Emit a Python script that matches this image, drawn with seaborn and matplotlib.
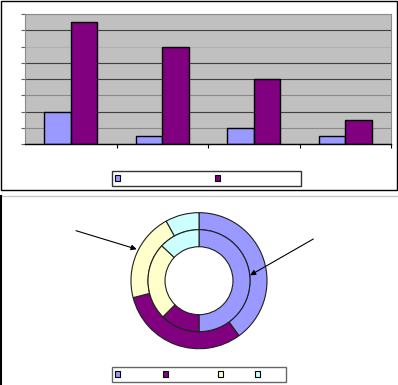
import numpy as np
import pandas as pd
import matplotlib
matplotlib.use("Agg")
import matplotlib.pyplot as plt
import seaborn as sns
from matplotlib.patches import Rectangle, Patch
from matplotlib.lines import Line2D

# ---- data ----
categories = ["1", "2", "3", "4"]
series = ["A", "B"]
series_a = [2, 0.5, 1, 0.5]
series_b = [7.5, 6, 4, 1.5]
y_ticks = [0, 1, 2, 3, 4, 5, 6, 7, 8]
ring_labels = ["1", "2", "3", "4"]
outer_values = [40, 31, 21, 8]
inner_values = [50, 12.5, 24.5, 13]

bar_colors = ["#9999FF", "#800080"]
ring_colors = ["#9999FF", "#800080", "#FFFFCC", "#CCFFFF"]

# legend labels are blank in the reference (space runs only keep the layout)
bar_legend_labels = [" " * 34, " " * 29]
ring_legend_labels = [" " * 14, " " * 17, " " * 10, " " * 8]

W, H = 398, 385
fig = plt.figure(figsize=(W / 100, H / 100), dpi=100)


def px(x0, y0, x1, y1):
    return [x0 / W, 1 - y1 / H, (x1 - x0) / W, (y1 - y0) / H]


# ---- top bar chart ----
ax = fig.add_axes(px(25, 14, 391, 144))
df = pd.DataFrame({
    "category": categories * 2,
    "series": [series[0]] * len(categories) + [series[1]] * len(categories),
    "value": series_a + series_b,
})
sns.barplot(data=df, x="category", y="value", hue="series", palette=bar_colors,
            width=0.58, edgecolor="black", linewidth=1, saturation=1,
            legend=False, ax=ax)
ax.set_facecolor("#C0C0C0")
ax.set_ylim(0, 8)
ax.set_xlim(-0.5, 3.5)
ax.set_yticks(y_ticks, labels=[""] * len(y_ticks))
ax.set_xticks([0.5, 1.5, 2.5, 3.5], labels=[""] * 4)
ax.tick_params(axis="x", direction="out", length=3, color="black", width=0.8)
ax.tick_params(axis="y", direction="out", length=3, color="#606060", width=0.8)
ax.set_xlabel("")
ax.set_ylabel("")
ax.yaxis.grid(True, color="#404040", lw=0.8)
ax.set_axisbelow(True)
light = {1, 3, 8}
for i, gl in enumerate(ax.get_ygridlines()):
    if i in light:
        gl.set_color("#8a8a8a")
    if i == 6:
        gl.set_color("#b0b0b0")
for s in ["top", "right", "left"]:
    ax.spines[s].set_color("#8a8a8a")
    ax.spines[s].set_linewidth(0.8)
ax.spines["bottom"].set_color("black")
ax.spines["bottom"].set_linewidth(1)

leg_kw = dict(loc="upper left", frameon=True, fancybox=False,
              handlelength=0.6, handleheight=0.6, borderpad=0.35, fontsize=6,
              borderaxespad=0, handletextpad=0.2, columnspacing=0.5)

leg1 = fig.legend(handles=[Patch(facecolor=c, edgecolor="black", lw=0.8) for c in bar_colors],
                  labels=bar_legend_labels, bbox_to_anchor=(112 / W, 1 - 171 / H),
                  ncol=2, edgecolor="black", **leg_kw)
leg1.get_frame().set_linewidth(1)

# frame of top panel
fig.add_artist(Rectangle((1 / W, 1 - 189.5 / H), 396 / W, 189 / H,
                         transform=fig.transFigure, fill=False,
                         edgecolor="black", lw=1))

# ---- bottom donut ----
ax2 = fig.add_axes(px(124, 205.7, 274, 355.7))
wp = dict(width=0.227, edgecolor="#202020", linewidth=0.8)
ax2.pie(outer_values, radius=0.907, colors=ring_colors, startangle=90,
        counterclock=False, wedgeprops=wp)
ax2.pie(inner_values, radius=0.68, colors=ring_colors, startangle=90,
        counterclock=False, wedgeprops=wp)
ax2.set_xlim(-1, 1)
ax2.set_ylim(-1, 1)
ax2.set_aspect("equal")
ax2.axis("off")

arrow = dict(arrowstyle="-|>", color="black", lw=0.8, mutation_scale=8,
             shrinkA=0, shrinkB=0)
ax2.annotate("", xy=(-0.83, 0.42), xytext=(-1.64, 0.667), arrowprops=arrow,
             annotation_clip=False)
ax2.annotate("", xy=(0.68, 0.072), xytext=(1.524, 0.556), arrowprops=arrow,
             annotation_clip=False)

leg2 = fig.legend(handles=[Patch(facecolor=c, edgecolor="black", lw=0.8) for c in ring_colors],
                  labels=ring_legend_labels, bbox_to_anchor=(112 / W, 1 - 367 / H),
                  ncol=4, edgecolor="#404040", **leg_kw)
leg2.get_frame().set_linewidth(1)

fig.add_artist(Line2D([0, 1], [1 - 196 / H] * 2, transform=fig.transFigure,
                      color="#c8c8c8", lw=1))
fig.add_artist(Line2D([1 / W, 1 / W], [0, 1 - 196 / H], transform=fig.transFigure,
                      color="black", lw=1.5))

fig.savefig("out.png", dpi=100)
